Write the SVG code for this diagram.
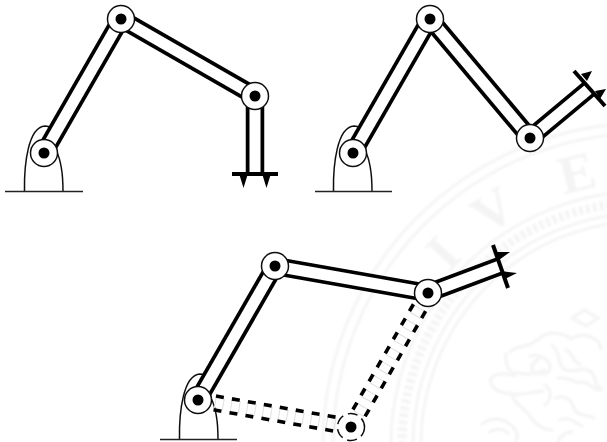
<svg xmlns="http://www.w3.org/2000/svg" width="607" height="442" viewBox="0 0 607 442">
<defs>
<filter id="soft" x="-5%" y="-5%" width="110%" height="110%"><feGaussianBlur stdDeviation="0.55"/></filter>
<filter id="softer" x="-5%" y="-5%" width="110%" height="110%"><feGaussianBlur stdDeviation="0.9"/></filter>
</defs>
<style>
.o{stroke:#000;stroke-width:18.500;fill:none}
.i{stroke:#fff;stroke-width:11;fill:none}
.j{fill:#fff;stroke:#111;stroke-width:1.500}
.p{fill:#000}
.b{fill:#fff;stroke:#111;stroke-width:1.500}
.g{stroke:#222;stroke-width:1.700}
.h{stroke:#000;stroke-width:4}
.d{stroke:#000;stroke-width:3.600;stroke-dasharray:8 8.200}
.r{stroke:#e0e0e0;stroke-width:12;stroke-dasharray:1 7.200 1 7}
.w{fill:none;stroke:#f5f5f5;stroke-width:3}
.wb{fill:none;stroke:#f4f4f4;stroke-width:9;stroke-dasharray:4 3}
.wl{fill:none;stroke:#f5f5f5;stroke-width:3.500;stroke-linecap:round}
.wt{font-family:"Liberation Serif",serif;font-weight:bold;font-size:54px;fill:#f4f4f4;text-anchor:middle}
</style>
<g id="watermark" filter="url(#softer)">
<circle class="w" cx="645" cy="445" r="322"/>
<circle class="w" cx="645" cy="445" r="312"/>
<circle class="w" cx="645" cy="445" r="254"/>
<circle class="wb" cx="645" cy="445" r="243"/>
<circle class="w" cx="645" cy="445" r="232"/>
<circle class="w" cx="645" cy="445" r="224"/>
<text class="wt" transform="translate(443,253) rotate(-47)" y="18">I</text>
<text class="wt" transform="translate(493,210) rotate(-33)" y="18">V</text>
<text class="wt" transform="translate(577,173) rotate(-14)" y="18">E</text>
<path class="wl" d="M510 352c8-8 20-4 27-12 12-12 28-6 34-1 12-8 28-2 30 10M506 354c-2 10 4 18 10 22-8-2-22-4-25 3-2 8 8 14 20 15 12 1 22-2 32-3M512 394c2 10 12 14 18 22 4 8 14 14 22 14M530 356c8-2 18 2 20 10 1 8-10 10-16 6-4-3-2-10 4-12M516 372c10 4 20 2 28-2M545 385c8 6 6 14 0 20M552 345c10 8 4 18 12 24 10 6 16-4 26 2 8 6 2 14 12 18M558 378c10-2 16 6 24 4 8 0 10 8 18 8M556 398c8-4 16 2 18 10 2 8 12 6 20 10M566 350c8 4 6 12 14 14M560 420c8-4 14 2 22 6M482 424c10-8 22-6 30 2 6 6 6 12 4 16M490 432c6-4 14-4 18 2M572 318l12-8 14 8-12 8zM558 442c2-6 8-10 14-10"/>
</g>
<g id="drawing" filter="url(#soft)">
<g id="base1"><path class="b" d="M24.500 191C24 165 28 127 45 126C48 126 50 127 51 129L56 150C61 160 63 175 63 191"/><line class="g" x1="5" y1="191.500" x2="83" y2="191.500"/></g>
<g id="base2"><path class="b" d="M333.500 191C333 165 337 127 354 126C357 126 359 127 360 129L365 150C370 160 372 175 372 191"/><line class="g" x1="315" y1="191.500" x2="392" y2="191.500"/></g>
<g id="base3"><path class="b" d="M179.500 439C179 413 183 375 200 374C203 374 205 375 206 377L211 398C216 408 218 423 218 439"/><line class="g" x1="160" y1="439.500" x2="237" y2="439.500"/></g>
<g id="connectors">
<line class="o" x1="44" y1="153" x2="121" y2="19"/><line class="i" x1="44" y1="153" x2="121" y2="19"/>
<line class="o" x1="121" y1="19" x2="255" y2="96"/><line class="i" x1="121" y1="19" x2="255" y2="96"/>
<line class="o" x1="255" y1="96" x2="255" y2="174"/><line class="i" x1="255" y1="96" x2="255" y2="174"/>
<line class="o" x1="353" y1="153" x2="430" y2="19"/><line class="i" x1="353" y1="153" x2="430" y2="19"/>
<line class="o" x1="430" y1="19" x2="530" y2="138"/><line class="i" x1="430" y1="19" x2="530" y2="138"/>
<line class="o" x1="530" y1="138" x2="590" y2="88"/><line class="i" x1="530" y1="138" x2="590" y2="88"/>
<line class="o" x1="198" y1="400" x2="275" y2="266"/><line class="i" x1="198" y1="400" x2="275" y2="266"/>
<line class="o" x1="275" y1="266" x2="428" y2="293"/><line class="i" x1="275" y1="266" x2="428" y2="293"/>
<line class="o" x1="428" y1="293" x2="500" y2="266"/><line class="i" x1="428" y1="293" x2="500" y2="266"/>
<g transform="translate(198,400) rotate(10)">
<line class="r" x1="17" x2="146" y1="0" y2="0"/>
<line class="d" x1="17" x2="146" y1="-7" y2="-7"/><line class="d" x1="17" x2="146" y1="7" y2="7"/>
</g>
<g transform="translate(428,293) rotate(119.9)">
<line class="r" x1="17" x2="146" y1="0" y2="0"/>
<line class="d" x1="17" x2="146" y1="-7" y2="-7"/><line class="d" x1="17" x2="146" y1="7" y2="7"/>
</g>
</g>
<g id="hand1">
<line class="h" x1="232" y1="174" x2="278" y2="174"/>
<path d="M239.500 175h8l-4 13zM262.500 175h8l-4 13z"/>
</g>
<g id="hand2">
<line class="h" x1="574" y1="71" x2="605" y2="106"/>
<path d="M581 74l11-3-5 10zM595 91l11-2-6 10z"/>
</g>
<g id="hand3">
<line class="h" x1="493" y1="245" x2="508" y2="288"/>
<path d="M496 252l14 0-11 8zM501 271l16 2-12 6z"/>
</g>
<g id="node1a"><circle class="j" cx="44" cy="153" r="13.500"/><circle class="p" cx="44" cy="153" r="5.500"/></g>
<g id="node1b"><circle class="j" cx="121" cy="19" r="13.500"/><circle class="p" cx="121" cy="19" r="5.500"/></g>
<g id="node1c"><circle class="j" cx="255" cy="96" r="13.500"/><circle class="p" cx="255" cy="96" r="5.500"/></g>
<g id="node2a"><circle class="j" cx="353" cy="153" r="13.500"/><circle class="p" cx="353" cy="153" r="5.500"/></g>
<g id="node2b"><circle class="j" cx="430" cy="19" r="13.500"/><circle class="p" cx="430" cy="19" r="5.500"/></g>
<g id="node2c"><circle class="j" cx="530" cy="138" r="13.500"/><circle class="p" cx="530" cy="138" r="5.500"/></g>
<g id="node3a"><circle class="j" cx="198" cy="400" r="13.500"/><circle class="p" cx="198" cy="400" r="5.500"/></g>
<g id="node3b"><circle class="j" cx="275" cy="266" r="13.500"/><circle class="p" cx="275" cy="266" r="5.500"/></g>
<g id="node3c"><circle class="j" cx="428" cy="293" r="13.500"/><circle class="p" cx="428" cy="293" r="5.500"/></g>
<g id="node3d"><circle class="j" cx="351" cy="427" r="13.500" stroke-dasharray="10 5"/><circle class="p" cx="351" cy="427" r="5.500"/></g>
</g>
</svg>
